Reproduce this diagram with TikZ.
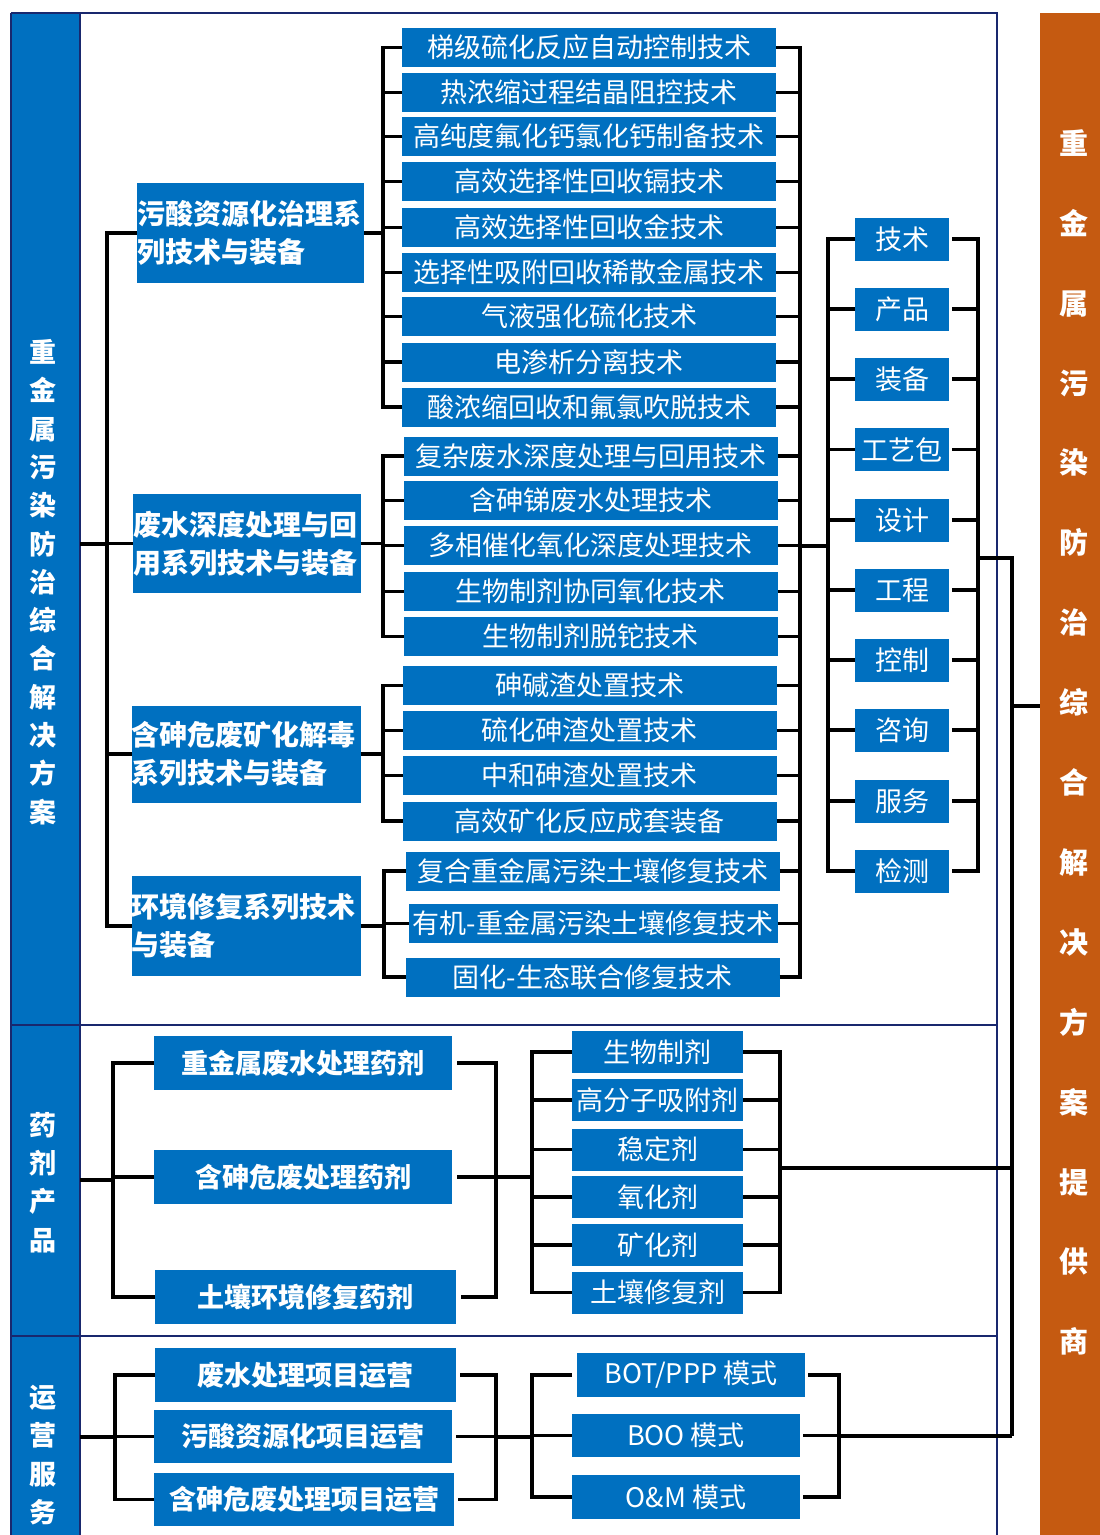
\documentclass[tikz,border=0pt]{standalone}
\usepackage{fontspec}
\newfontfamily\cjk{Noto Sans CJK SC}
\usetikzlibrary{calc}
\definecolor{boxblue}{RGB}{0,112,192}
\definecolor{navyline}{RGB}{25,40,110}
\definecolor{orangecol}{RGB}{197,90,17}
\begin{document}
\begin{tikzpicture}[x=1pt,y=-1pt,
  bx/.style={fill=boxblue, text=white, inner sep=0pt, outer sep=0pt, font=\cjk\fontsize{27}{32}\selectfont},
  tb/.style={bx, minimum height=39pt, minimum width=374pt},
  hb/.style={bx, font=\cjk\bfseries\fontsize{28}{38}\selectfont, align=left, minimum height=100pt},
  sv/.style={bx, minimum width=94pt, minimum height=43pt},
  chb/.style={bx, minimum width=171pt, minimum height=42pt},
  pb/.style={bx, font=\cjk\bfseries\fontsize{27}{32}\selectfont, minimum height=54pt},
  mdb/.style={bx, minimum height=44pt, minimum width=228pt},
  coltext/.style={text=white, inner sep=0pt, align=center, font=\cjk\bfseries\fontsize{27}{38.3}\selectfont},
  orgtext/.style={text=white, inner sep=0pt, align=center, font=\cjk\bfseries\fontsize{29}{79.9}\selectfont},
  ln/.style={draw=black, line width=3.4pt},
  fr/.style={draw=navyline, line width=1.6pt},
]
\useasboundingbox (0,0) rectangle (1100,1535);
\fill[white] (0,0) rectangle (1100,1535);

% left column cells
\node[fill=boxblue, inner sep=0pt, outer sep=0pt, minimum width=69pt, minimum height=1012pt] (col1) at (45.5,519) {};
\node[fill=boxblue, inner sep=0pt, outer sep=0pt, minimum width=69pt, minimum height=311pt] (col2) at (45.5,1180.5) {};
\node[fill=boxblue, inner sep=0pt, outer sep=0pt, minimum width=69pt, minimum height=210pt] (col3) at (45.5,1441) {};
\node[coltext] (col1t) at (43,582) {重\\金\\属\\污\\染\\防\\治\\综\\合\\解\\决\\方\\案};
\node[coltext] (col2t) at (43,1182.5) {药\\剂\\产\\品};
\node[coltext] (col3t) at (43,1455) {运\\营\\服\\务};

% orange column
\node[fill=orangecol, inner sep=0pt, outer sep=0pt, minimum width=60pt, minimum height=1530pt] (orange) at (1070,778) {};
\node[orgtext] (orgt) at (1074,742.5) {重\\金\\属\\污\\染\\防\\治\\综\\合\\解\\决\\方\\案\\提\\供\\商};

% frame
\draw[fr] (11,13) -- (997,13) -- (997,1540);
\draw[fr] (11,13) -- (11,1540);
\draw[fr] (80,13) -- (80,1540);
\draw[fr] (11,1025) -- (997,1025);
\draw[fr] (11,1336) -- (997,1336);

% level-1 boxes section 1
\node[hb, text width=227pt] (A) at (250.5,233) {污酸资源化治理系\\列技术与装备};
\node[hb, text width=227.5pt, minimum height=99pt] (B) at (246.75,543.5) {废水深度处理与回\\用系列技术与装备};
\node[hb, text width=229pt, minimum height=97pt] (C) at (246,754) {含砷危废矿化解毒\\系列技术与装备};
\node[hb, text width=229pt] (D) at (246,926) {环境修复系列技术\\与装备};

% tech boxes
\node[tb] (k1) at (589,47.5) {梯级硫化反应自动控制技术};
\node[tb] (k2) at (589,92.5) {热浓缩过程结晶阻控技术};
\node[tb] (k3) at (589,136.5) {高纯度氟化钙氯化钙制备技术};
\node[tb] (k4) at (589,181.5) {高效选择性回收镉技术};
\node[tb] (k5) at (589,227.5) {高效选择性回收金技术};
\node[tb] (k6) at (589,272.5) {选择性吸附回收稀散金属技术};
\node[tb] (k7) at (589,316.5) {气液强化硫化技术};
\node[tb] (k8) at (589,362) {电渗析分离技术};
\node[tb] (k9) at (589,407) {酸浓缩回收和氟氯吹脱技术};
\node[tb] (k10) at (590.5,456) {复杂废水深度处理与回用技术};
\node[tb] (k11) at (590.5,500.5) {含砷锑废水处理技术};
\node[tb] (k12) at (590.5,545.5) {多相催化氧化深度处理技术};
\node[tb] (k13) at (590.5,591.5) {生物制剂协同氧化技术};
\node[tb] (k14) at (590.5,636.5) {生物制剂脱铊技术};
\node[tb] (k15) at (589.5,685.5) {砷碱渣处置技术};
\node[tb] (k16) at (589.5,730.5) {硫化砷渣处置技术};
\node[tb] (k17) at (589.5,775.5) {中和砷渣处置技术};
\node[tb] (k18) at (589.5,821) {高效矿化反应成套装备};
\node[tb] (k19) at (592.5,871) {复合重金属污染土壤修复技术};
\node[tb, minimum width=369pt] (k20) at (593,923.5) {有机-重金属污染土壤修复技术};
\node[tb] (k21) at (592.5,977) {固化-生态联合修复技术};

% service boxes
\node[sv] (s1) at (902,239) {技术};
\node[sv] (s2) at (902,309) {产品};
\node[sv] (s3) at (902,379) {装备};
\node[sv] (s4) at (902,449.5) {工艺包};
\node[sv] (s5) at (902,520) {设计};
\node[sv] (s6) at (902,590) {工程};
\node[sv] (s7) at (902,660) {控制};
\node[sv] (s8) at (902,730) {咨询};
\node[sv] (s9) at (902,801) {服务};
\node[sv] (s10) at (902,871) {检测};

% section 2 boxes
\node[pb, minimum width=298pt] (p1) at (303,1063) {重金属废水处理药剂};
\node[pb, minimum width=298pt] (p2) at (303,1177) {含砷危废处理药剂};
\node[pb, minimum width=301pt] (p3) at (305.5,1297) {土壤环境修复药剂};
\node[chb] (c1) at (657.5,1052) {生物制剂};
\node[chb] (c2) at (657.5,1100) {高分子吸附剂};
\node[chb] (c3) at (657.5,1149.5) {稳定剂};
\node[chb] (c4) at (657.5,1197) {氧化剂};
\node[chb] (c5) at (657.5,1245) {矿化剂};
\node[chb] (c6) at (657.5,1292.5) {土壤修复剂};

% section 3 boxes
\node[pb, minimum width=301pt] (o1) at (305.5,1375) {废水处理项目运营};
\node[pb, minimum width=298pt, minimum height=53pt] (o2) at (303,1436.5) {污酸资源化项目运营};
\node[pb, minimum width=300pt, minimum height=53pt] (o3) at (304,1499.5) {含砷危废处理项目运营};
\node[mdb] (m1) at (691,1375) {BOT/PPP 模式};
\node[mdb, minimum height=43pt] (m2) at (686,1435.5) {BOO 模式};
\node[mdb] (m3) at (686,1497) {O\&M 模式};

% ---- connectors section 1
\coordinate (t1) at (107,544);
\draw[ln] (col1.east |- t1) -- (t1);
\foreach \n in {A,B,C,D} \draw[ln] (\n.west) -| (t1);

\coordinate (ja) at (383,233);
\draw[ln] (A.east) -- (ja);
\foreach \i in {1,...,9} \draw[ln] (k\i.west) -| (ja);
\coordinate (jb) at (383,543.5);
\draw[ln] (B.east) -- (jb);
\foreach \i in {10,...,14} \draw[ln] (k\i.west) -| (jb);
\coordinate (jc) at (383,754);
\draw[ln] (C.east) -- (jc);
\foreach \i in {15,...,18} \draw[ln] (k\i.west) -| (jc);
\coordinate (jd) at (384,926);
\draw[ln] (D.east) -- (jd);
\foreach \i in {19,...,21} \draw[ln] (k\i.west) -| (jd);

\coordinate (jr) at (800,546);
\foreach \i in {1,...,21} \draw[ln] (k\i.east) -| (jr);
\coordinate (js) at (828,546);
\draw[ln] (jr) -- (js);
\foreach \i in {1,...,10} \draw[ln] (s\i.west) -| (js);
\coordinate (jt) at (978,558);
\foreach \i in {1,...,10} \draw[ln] ([xshift=3pt]s\i.east) -| (jt);

\coordinate (tr0) at (1012,558);
\coordinate (tr1) at (1012,706);
\coordinate (tr2) at (1012,1168);
\coordinate (tr3) at (1012,1436);
\draw[ln] (jt) -- (tr0) -- (tr3);
\draw[ln] (tr1) -- (orange.west |- tr1);

% ---- connectors section 2
\coordinate (t2) at (113,1180);
\draw[ln] (col2.east |- t2) -- (t2);
\foreach \n in {p1,p2,p3} \draw[ln] (\n.west) -| (t2);
\coordinate (u2) at (496,1177);
\foreach \n in {p1,p2,p3} \draw[ln] ([xshift=5pt]\n.east) -| (u2);
\coordinate (v2) at (532,1177);
\draw[ln] (u2) -- (v2);
\foreach \i in {1,...,6} \draw[ln] (c\i.west) -| (v2);
\coordinate (w2) at (780,1168);
\foreach \i in {1,...,6} \draw[ln] (c\i.east) -| (w2);
\draw[ln] (w2) -- (tr2);

% ---- connectors section 3
\coordinate (t3) at (115,1437);
\draw[ln] (col3.east |- t3) -- (t3);
\foreach \n in {o1,o2,o3} \draw[ln] (\n.west) -| (t3);
\coordinate (u3) at (496,1437);
\foreach \n in {o1,o2,o3} \draw[ln] ([xshift=4pt]\n.east) -| (u3);
\coordinate (v3) at (532,1437);
\draw[ln] (u3) -- (v3);
\draw[ln] ([xshift=-5pt]m1.west) -| (v3);
\foreach \n in {m2,m3} \draw[ln] (\n.west) -| (v3);
\coordinate (w3) at (839,1436);
\foreach \n in {m1,m2,m3} \draw[ln] ([xshift=3pt]\n.east) -| (w3);
\draw[ln] (w3) -- (tr3);
\end{tikzpicture}
\end{document}
